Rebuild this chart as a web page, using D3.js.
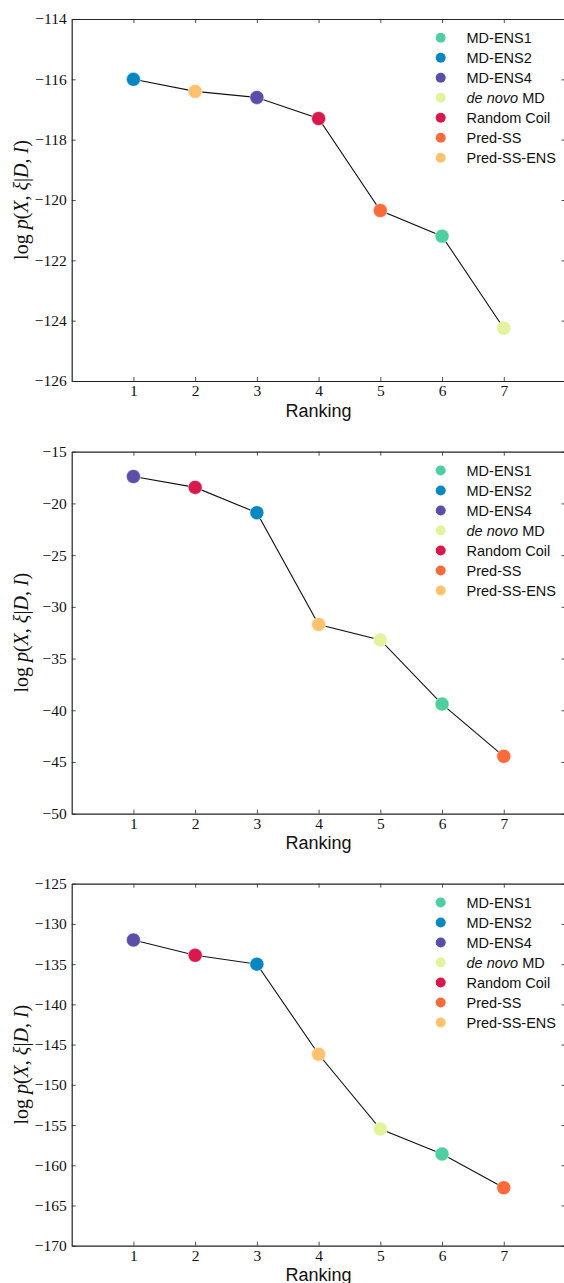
<!DOCTYPE html>
<html>
<head>
<meta charset="utf-8">
<script src="https://cdn.jsdelivr.net/npm/d3@7"></script>
<style>
  body { margin: 0; background: #fff; }
</style>
</head>
<body>
<div id="chart"></div>
<script>
// legend entries (same order in every panel)
var models = ["MD-ENS1", "MD-ENS2", "MD-ENS4", "de novo MD", "Random Coil", "Pred-SS", "Pred-SS-ENS"];
var modelColors = ["#4fcfa0", "#0787c2", "#5a4ea8", "#e2f39b", "#d9184b", "#fa6a3a", "#fec26e"];

var ranking = [1, 2, 3, 4, 5, 6, 7];
var xTicks = [1, 2, 3, 4, 5, 6, 7];

// panel 1
var order1 = ["MD-ENS2", "Pred-SS-ENS", "MD-ENS4", "Random Coil", "Pred-SS", "MD-ENS1", "de novo MD"];
var values1 = [-116.0, -116.4, -116.6, -117.3, -120.35, -121.2, -124.25];
var yTicks1 = [-126, -124, -122, -120, -118, -116, -114];

// panel 2
var order2 = ["MD-ENS4", "Random Coil", "MD-ENS2", "Pred-SS-ENS", "de novo MD", "MD-ENS1", "Pred-SS"];
var values2 = [-17.4, -18.45, -20.9, -31.7, -33.2, -39.4, -44.45];
var yTicks2 = [-50, -45, -40, -35, -30, -25, -20, -15];

// panel 3
var order3 = ["MD-ENS4", "Random Coil", "MD-ENS2", "Pred-SS-ENS", "de novo MD", "MD-ENS1", "Pred-SS"];
var values3 = [-132.0, -133.9, -135.0, -146.2, -155.5, -158.6, -162.8];
var yTicks3 = [-170, -165, -160, -155, -150, -145, -140, -135, -130, -125];

var W = 564, H = 1283;
var left = 71.7, right = 565.5, plotH = 362;
var serif = "'Liberation Serif', 'DejaVu Serif', serif";
var sans = "'Liberation Sans', Arial, sans-serif";

var color = d3.scaleOrdinal().domain(models).range(modelColors);

var svg = d3.select("#chart").append("svg")
    .attr("width", W)
    .attr("height", H);

var x = d3.scaleLinear().domain([0, 8]).range([left, right]);

function drawPanel(top, order, values, yTicks) {
    var y = d3.scaleLinear()
        .domain([yTicks[0], yTicks[yTicks.length - 1]])
        .range([top + plotH, top]);
    var g = svg.append("g");

    // axes with inward ticks on all four sides
    var bottom = g.append("g")
        .attr("transform", "translate(0," + (top + plotH) + ")")
        .call(d3.axisBottom(x).tickValues(xTicks).tickSizeInner(-4).tickSizeOuter(0).tickPadding(4));
    var topAx = g.append("g")
        .attr("transform", "translate(0," + top + ")")
        .call(d3.axisTop(x).tickValues(xTicks).tickSizeInner(-4).tickSizeOuter(0).tickFormat(""));
    var leftAx = g.append("g")
        .attr("transform", "translate(" + left + ",0)")
        .call(d3.axisLeft(y).tickValues(yTicks).tickSizeInner(-4).tickSizeOuter(0).tickPadding(5));
    var rightAx = g.append("g")
        .attr("transform", "translate(" + right + ",0)")
        .call(d3.axisRight(y).tickValues(yTicks).tickSizeInner(-4).tickSizeOuter(0).tickFormat(""));

    [bottom, topAx, leftAx, rightAx].forEach(function (a) {
        a.select(".domain").attr("stroke", "#222").attr("stroke-width", 1.2);
        a.selectAll(".tick line").attr("stroke", "#222").attr("stroke-width", 0.8);
        a.selectAll("text")
            .attr("font-family", serif)
            .attr("font-size", "15.5px")
            .attr("fill", "#111");
    });
    bottom.selectAll("text").attr("dy", "0.71em");

    // connecting line
    var pts = ranking.map(function (r, i) { return [r, values[i], order[i]]; });
    g.append("path")
        .datum(pts)
        .attr("fill", "none")
        .attr("stroke", "#111")
        .attr("stroke-width", 1.1)
        .attr("d", d3.line().x(function (d) { return x(d[0]); }).y(function (d) { return y(d[1]); }));

    g.selectAll("circle.pt")
        .data(pts)
        .enter().append("circle")
        .attr("class", "pt")
        .attr("cx", function (d) { return x(d[0]); })
        .attr("cy", function (d) { return y(d[1]); })
        .attr("r", 7)
        .attr("fill", function (d) { return color(d[2]); })
        .attr("stroke", "#fff")
        .attr("stroke-width", 0.5);

    // legend
    for (var i = 0; i < models.length; i++) {
        var ly = top + 18.8 + i * 20;
        g.append("circle")
            .attr("cx", 440.7)
            .attr("cy", ly)
            .attr("r", 5)
            .attr("fill", modelColors[i]);
        var t = g.append("text")
            .attr("x", 466.5)
            .attr("y", ly)
            .attr("dy", "0.36em")
            .attr("font-family", sans)
            .attr("font-size", "14.5px")
            .attr("fill", "#111");
        if (models[i] == "de novo MD") {
            t.append("tspan").attr("font-style", "italic").text("de novo");
            t.append("tspan").text(" MD");
        } else {
            t.text(models[i]);
        }
    }

    // x label
    g.append("text")
        .attr("x", (left + right) / 2)
        .attr("y", top + plotH + 35.5)
        .attr("text-anchor", "middle")
        .attr("font-family", sans)
        .attr("font-size", "18px")
        .attr("fill", "#111")
        .text("Ranking");

    // y label: log p(X, ξ|D, I)
    var yl = g.append("text")
        .attr("transform", "translate(28," + (top + plotH / 2) + ") rotate(-90)")
        .attr("text-anchor", "middle")
        .attr("font-family", serif)
        .attr("font-size", "20px")
        .attr("fill", "#111");
    yl.append("tspan").text("log ");
    yl.append("tspan").attr("font-style", "italic").text("p");
    yl.append("tspan").text("(");
    yl.append("tspan").attr("font-style", "italic").text("X");
    yl.append("tspan").text(", ");
    yl.append("tspan").attr("font-style", "italic").text("ξ");
    yl.append("tspan").text("|");
    yl.append("tspan").attr("font-style", "italic").text("D");
    yl.append("tspan").text(", ");
    yl.append("tspan").attr("font-style", "italic").text("I");
    yl.append("tspan").text(")");
}

drawPanel(19, order1, values1, yTicks1);
drawPanel(451.7, order2, values2, yTicks2);
drawPanel(883.7, order3, values3, yTicks3);
</script>
</body>
</html>
